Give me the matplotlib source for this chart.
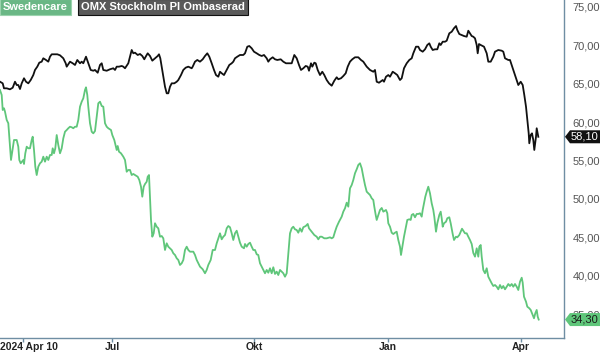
import numpy as np
import matplotlib
matplotlib.use("Agg")
import matplotlib.pyplot as plt
from matplotlib.patches import Polygon
from matplotlib.transforms import IdentityTransform

plt.rcParams["font.family"] = ["Liberation Sans", "DejaVu Sans"]

# time position (session index, arbitrary units along the x axis) and closing prices
omx_t = [0, 2.7, 4, 6.7, 10, 12.7, 15, 16.7, 18.3, 20, 21.7, 24, 26, 28.3, 30.7, 33.3, 35, 37.3, 39.3,
         41.7, 43.3, 46, 48.3, 50, 51.7, 55, 57.3, 60, 63.3, 65.7, 66.7, 70, 72.7, 75, 77.3, 80, 81.7,
         83.3, 86, 88.3, 90.7, 93.3, 95, 97.7, 100, 101.7, 103.3, 106.7, 110, 113.3, 115, 116.7, 119,
         121.7, 123.3, 125, 128.3, 130, 131.7, 133.3, 135, 137.7, 140, 142.3, 144.3, 145.7, 147.7, 150,
         152.3, 155, 157.7, 159, 160.3, 161.7, 163.3, 165, 166.7, 168.3, 170, 171.7, 174.3, 176.7, 178.3,
         181, 183.3, 185.7, 188.3, 191.7, 192.7, 195, 197.3, 200, 202.7, 205, 207.3, 209.3, 211.7, 214,
         216, 218.3, 220, 221.7, 224, 226.7, 229.3, 231.7, 233.3, 235, 237.3, 240, 243.3, 245, 247.3,
         249.3, 251.7, 254, 256.7, 259.3, 261.7, 264, 266.7, 268.3, 270, 272.7, 275, 277.3, 280.7, 283.3,
         286, 288.7, 291.7, 294.3, 296.7, 299, 301, 303.3, 305.7, 307.7, 309, 311, 312.3, 314.3, 315.7,
         317.7, 320, 322.3, 324.3, 326.7, 329, 331.7, 334.3, 336.7, 338.3, 341, 343.3, 345.7, 347.7, 350,
         352.3, 355, 358.3, 361, 363.3, 366.7, 370, 373.3, 375, 376.7, 379, 382.7, 384, 386, 388.3, 390,
         392.7, 395, 397.3, 400, 401.7, 404, 406.7, 409.3, 411.7, 413.3, 416, 418.3, 420, 422.7, 425,
         427.3, 429.3, 430.7, 432.7, 435, 437.3, 439.3, 440.7, 442.7, 445, 446.7, 449.3, 451.7, 454, 456,
         457.3, 459.3, 461.7, 464, 466.7, 468.3, 470, 471.7, 473.3, 475, 476.7, 477.7, 479, 480.7, 484,
         486.7, 488.3, 490.7, 493.3, 495, 498.3, 501.7, 503.3, 505, 508.3, 510, 511.7, 513.3, 515, 516.7,
         518.3, 520.7, 522.7, 524.3, 526, 527.3, 528.7, 529.3, 530.7, 532, 533.3, 534.3, 536, 536.7,
         537.7, 538.3]
omx_v = [65.27, 65.06, 64.41, 64.41, 64.28, 64.49, 65.27, 64.84, 64.84, 64.32, 65.06, 65.72, 65.27, 65.06,
         65.49, 66.14, 66.80, 67.23, 67.75, 67.88, 68.32, 68.10, 67.88, 68.53, 68.84, 68.84, 68.84, 68.71,
         68.32, 67.67, 67.23, 67.88, 67.67, 67.45, 68.10, 67.67, 67.88, 67.67, 68.53, 67.67, 66.80, 66.70,
         66.80, 66.44, 67.45, 67.67, 66.80, 66.70, 66.89, 67.02, 66.80, 67.23, 67.23, 67.32, 67.23, 67.02,
         67.67, 68.53, 69.40, 68.97, 69.05, 68.75, 68.88, 68.62, 68.19, 68.53, 68.97, 68.62, 68.01, 68.32,
         68.62, 68.84, 68.32, 67.23, 65.92, 64.62, 63.76, 63.76, 64.62, 65.06, 65.06, 65.27, 65.49, 66.14,
         66.80, 67.10, 67.23, 67.02, 67.23, 67.88, 68.10, 67.88, 68.19, 68.62, 68.97, 68.53, 67.67, 66.80,
         66.14, 65.92, 66.57, 66.37, 66.14, 66.80, 67.45, 67.67, 67.88, 68.32, 68.53, 68.75, 68.75, 68.97,
         69.83, 69.92, 69.62, 69.18, 68.97, 68.75, 68.62, 68.75, 68.32, 67.88, 68.19, 68.45, 68.19, 68.10,
         68.19, 67.88, 67.67, 67.67, 67.67, 68.75, 68.32, 67.45, 66.80, 67.02, 67.32, 67.23, 66.70, 67.67,
         67.23, 67.75, 67.67, 66.80, 66.14, 66.57, 66.14, 65.49, 65.06, 64.75, 65.40, 65.85, 65.59, 65.72,
         66.01, 66.37, 67.23, 67.88, 68.19, 68.45, 68.45, 68.10, 67.88, 67.23, 66.80, 66.57, 66.80, 65.27,
         65.14, 65.49, 65.27, 65.92, 66.14, 65.92, 66.57, 66.37, 66.14, 65.49, 65.72, 67.02, 67.67, 68.10,
         68.32, 68.97, 69.83, 69.83, 69.40, 69.18, 69.49, 70.05, 70.27, 69.83, 69.40, 69.49, 69.49, 70.27,
         70.05, 70.48, 70.48, 70.61, 71.57, 71.78, 72.23, 72.52, 72.00, 71.48, 71.35, 71.22, 71.13, 71.91,
         71.57, 71.22, 71.13, 70.92, 70.05, 68.97, 70.18, 70.05, 69.83, 68.97, 67.88, 67.88, 68.53, 69.18,
         69.40, 69.31, 69.18, 68.32, 68.10, 68.10, 67.45, 66.80, 66.14, 65.49, 64.84, 65.27, 64.84, 63.54,
         62.02, 60.29, 58.55, 57.25, 58.33, 58.55, 57.68, 56.38, 58.11, 59.21, 58.55, 58.10]

swc_t = [0, 1.7, 2.7, 4, 5, 6.7, 8.3, 10, 11, 12.7, 14, 16.7, 18.3, 19.3, 20.7, 22, 23.3, 24, 25.3, 26.7,
         28.3, 30, 31.7, 32.7, 34, 35.3, 36.7, 38.3, 40, 41.7, 43.3, 45, 46.7, 48.3, 50, 51.7, 52.7, 54,
         55.3, 56.7, 58.3, 60, 61.7, 63.3, 65, 66.7, 68.3, 70, 71.7, 73.3, 75, 76.7, 78.3, 80, 81.7, 83.3,
         85, 86, 87.3, 88.3, 90, 91.7, 93.3, 95, 96.7, 98.3, 100, 101.7, 103.3, 105, 106.7, 108.3, 111,
         112.3, 114.3, 116.7, 117.7, 119, 121, 123.3, 125, 126.7, 128.3, 130, 131.7, 133.3, 135, 137.7,
         139.3, 141, 142.3, 143.7, 145, 146.7, 147.7, 149, 150, 151, 152.3, 153.7, 155, 156.7, 158.3, 160,
         161.7, 163.3, 165, 166.7, 168.3, 170, 171.7, 173.3, 175, 176.7, 178.3, 180, 181.7, 183.3, 185,
         186.7, 188.3, 190, 193.3, 195, 196.7, 200, 202.7, 205, 206.7, 208.3, 210.7, 212.7, 215, 216.7,
         218.3, 220, 221.7, 223.3, 225, 226.7, 228.3, 230, 231.7, 233.3, 235, 236.7, 238.3, 240, 241.7, 244,
         245, 246.7, 248.3, 250, 251.7, 253.3, 255, 256.7, 258.3, 260, 261.7, 263.3, 265, 266.7, 268.3, 270,
         271.7, 273.3, 275, 276.7, 278.3, 280, 281.7, 283.3, 285, 286.7, 288.3, 290, 291.7, 293.3, 295,
         296.7, 298.3, 300, 301.7, 303.3, 305.7, 307.7, 309, 311.7, 314.3, 316.7, 318.3, 320, 321.7, 324.3,
         326.7, 330, 331.7, 333.3, 335, 336.7, 339, 341.7, 343.3, 345, 346.7, 348.3, 350, 351.7, 353.3, 355,
         356.7, 358.3, 360, 361.7, 363.3, 365, 366.7, 368.3, 370, 371.7, 373.3, 374.3, 375.7, 376.7, 378.3,
         380, 381.7, 383.3, 386, 387.3, 388.3, 390, 391.7, 393.3, 395, 396.7, 398.3, 400, 401, 402.7, 404,
         406, 407.3, 409.3, 410.7, 411.7, 413.3, 415, 416.7, 418.3, 420, 421.7, 422.7, 424, 425.3, 426.7,
         428.3, 430, 431.7, 433.3, 434.3, 436, 437.3, 439.3, 440.7, 441.7, 442.7, 444, 446, 447.3, 449.3,
         450.7, 452.7, 454, 456, 457.3, 459.3, 460.7, 462, 463.3, 465, 466.7, 468.3, 470, 471.7, 473.3, 475,
         476.7, 478.3, 479.3, 480.7, 481.7, 483.3, 485, 486.7, 488.3, 490, 491.7, 493.3, 495, 496.7, 498.3,
         500, 501.7, 503.3, 505, 506.7, 508.3, 510, 511.7, 513.3, 515, 516.7, 518.3, 520, 521.7, 522.7, 524,
         526, 527.3, 529.3, 530.7, 532.7, 534, 535.3, 536.7, 537.7, 538.7]
swc_v = [64.19, 63.54, 61.59, 61.81, 61.37, 60.29, 59.86, 56.81, 55.08, 56.60, 57.68, 57.68, 56.81, 55.08,
         54.65, 54.86, 55.08, 54.56, 55.95, 56.81, 56.60, 56.60, 57.68, 58.11, 56.38, 54.21, 53.12, 54.21,
         54.65, 54.86, 55.51, 54.86, 55.51, 55.08, 55.73, 55.73, 56.60, 55.95, 56.60, 58.33, 57.03, 55.95,
         56.60, 57.90, 58.76, 58.98, 59.21, 59.41, 59.34, 59.21, 59.41, 59.41, 60.29, 62.02, 62.67, 63.11,
         64.19, 64.54, 63.54, 62.02, 59.86, 58.76, 58.55, 58.85, 60.72, 62.46, 62.67, 62.11, 62.02, 59.86,
         59.41, 59.21, 58.98, 58.33, 57.68, 56.38, 56.90, 56.16, 55.95, 55.51, 55.08, 53.55, 53.78, 53.78,
         53.12, 53.26, 53.12, 52.90, 52.47, 51.60, 50.30, 51.60, 51.95, 52.25, 52.90, 53.12, 50.30, 47.26,
         45.09, 45.53, 46.84, 46.39, 46.18, 45.09, 45.18, 44.88, 43.36, 44.23, 43.79, 43.58, 43.36, 42.93,
         42.71, 42.28, 42.06, 41.41, 41.63, 42.06, 43.36, 43.79, 43.36, 43.14, 43.14, 42.71, 42.06, 41.19,
         40.85, 40.33, 40.76, 41.41, 42.06, 43.36, 43.36, 44.23, 44.88, 45.53, 44.75, 45.09, 45.31, 46.18,
         46.48, 46.32, 45.53, 44.66, 45.53, 45.87, 45.09, 44.31, 43.79, 43.58, 44.14, 43.79, 44.14, 44.31,
         43.79, 43.36, 43.36, 42.80, 42.71, 41.63, 41.19, 40.76, 40.33, 40.76, 40.40, 40.98, 40.33, 41.11,
         40.24, 40.54, 40.10, 40.76, 40.54, 40.33, 39.88, 40.33, 42.93, 45.53, 46.18, 46.39, 46.05, 45.96,
         45.61, 46.18, 45.74, 46.32, 46.48, 46.75, 46.18, 45.74, 45.31, 45.09, 44.75, 45.09, 45.09, 44.88,
         44.88, 45.01, 44.88, 45.01, 45.74, 46.39, 47.04, 47.70, 48.35, 48.79, 49.52, 49.00, 51.39, 51.82,
         52.47, 53.35, 53.87, 54.43, 54.65, 54.00, 52.90, 51.82, 50.95, 50.74, 50.52, 50.09, 49.87, 49.00,
         47.92, 47.27, 47.92, 48.57, 48.83, 48.35, 48.57, 48.14, 46.84, 46.39, 45.61, 45.44, 45.61, 45.74,
         44.66, 43.79, 42.71, 44.01, 45.09, 46.39, 47.27, 47.36, 47.27, 47.92, 48.05, 47.62, 48.05, 48.05,
         48.14, 47.70, 48.57, 49.44, 50.30, 50.95, 51.60, 50.74, 49.44, 48.57, 47.70, 45.74, 46.84, 47.92,
         48.35, 47.49, 46.39, 46.84, 47.04, 47.49, 47.62, 46.84, 45.44, 44.66, 45.09, 45.01, 45.31, 45.74,
         46.13, 45.87, 45.53, 45.53, 45.09, 44.66, 44.14, 42.97, 42.49, 43.58, 42.49, 43.79, 44.01, 42.49,
         40.76, 40.33, 40.98, 39.88, 39.45, 39.02, 38.67, 38.80, 38.58, 38.24, 38.80, 38.37, 38.67, 38.24,
         38.58, 38.93, 38.67, 38.93, 38.58, 38.93, 38.58, 38.15, 39.23, 39.75, 39.10, 37.28, 36.63, 35.98,
         35.77, 35.55, 34.90, 34.47, 35.12, 35.55, 34.68, 34.30]

month_ticks = [112, 254, 388, 521]
month_labels = ["Jul", "Okt", "Jan", "Apr"]
start_tick = 23
start_label = "2024 Apr 10"
y_ticks = [35, 40, 45, 50, 55, 60, 65, 70, 75]

GREEN = "#5fc67a"
AXIS = "#6f8ea3"

fig = plt.figure(figsize=(6, 3.53), dpi=100)
ax = fig.add_axes([0, 15 / 353, 564 / 600, 338 / 353])

ax.plot(swc_t, swc_v, color=GREEN, lw=1.3, solid_joinstyle="round")
ax.plot(omx_t, omx_v, color="#111111", lw=1.3, solid_joinstyle="round")

ax.set_xlim(0, 564)
ax.set_ylim(31.9, 75.91)

for s in ["top", "left"]:
    ax.spines[s].set_visible(False)
for s in ["right", "bottom"]:
    ax.spines[s].set_color(AXIS)
    ax.spines[s].set_linewidth(1.0)

ax.yaxis.tick_right()
ax.set_yticks(y_ticks)
ax.set_yticklabels([f"{v},00" for v in y_ticks])
ax.tick_params(axis="y", length=0, pad=6, labelsize=8, labelcolor="#555555")

ax.set_xticks([start_tick] + month_ticks)
ax.set_xticklabels([""] + month_labels)
ax.tick_params(axis="x", direction="out", length=3, width=1, color=AXIS,
               pad=0, labelsize=7.5, labelcolor="#222222")
for lbl in ax.get_xticklabels():
    lbl.set_fontweight("bold")
ax.get_xticklines()[0].set_color("#e05050")
ax.text(0, -0.012, start_label, transform=ax.transAxes, ha="left", va="top",
        fontsize=7.5, fontweight="bold", color="#222222")

fig.canvas.draw()


def price_tag(value, text, face, tcolor):
    y = ax.transData.transform((0, value))[1]
    x0 = ax.transAxes.transform((1, 0))[0] + 1
    h = 6.5
    verts = [(x0, y), (x0 + 5, y + h), (600, y + h), (600, y - h), (x0 + 5, y - h)]
    fig.patches.append(Polygon(verts, closed=True, transform=IdentityTransform(),
                               facecolor=face, edgecolor="none", zorder=5))
    fig.text((x0 + 6) / 600, y / 353, text, ha="left", va="center", fontsize=8,
             color=tcolor, zorder=6)


price_tag(omx_v[-1], "58,10", "#111111", "white")
price_tag(swc_v[-1], "34,30", GREEN, "#1a1a1a")

# legend boxes at the top left
fig.text(3 / 600, 1 - 7 / 353, "Swedencare", ha="left", va="center", fontsize=8,
         fontweight="bold", color="white",
         bbox=dict(boxstyle="square,pad=0.25", facecolor="#6ab785", edgecolor="#9bd3ad", lw=0.8))
fig.text(81 / 600, 1 - 7 / 353, "OMX Stockholm PI Ombaserad", ha="left", va="center", fontsize=8,
         fontweight="bold", color="white",
         bbox=dict(boxstyle="square,pad=0.25", facecolor="#5a5a5a", edgecolor="#111111", lw=0.8))

fig.savefig("out.png", dpi=100)
